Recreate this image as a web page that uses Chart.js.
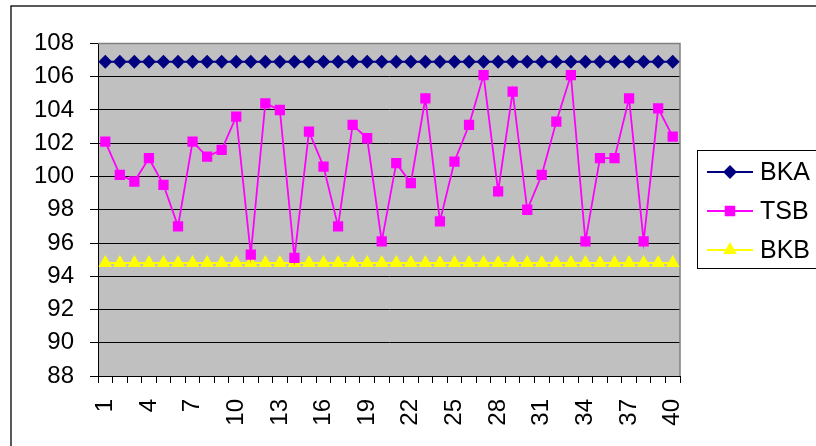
<!DOCTYPE html>
<html>
<head>
<meta charset="utf-8">
<script src="https://cdn.jsdelivr.net/npm/chart.js@4/dist/chart.umd.min.js"></script>
<style>
  body { margin: 0; background: #fff; }
  canvas { display: block; }
</style>
</head>
<body>
<canvas id="chart" width="816" height="446"></canvas>
<script>
const categories = ["1", "2", "3", "4", "5", "6", "7", "8", "9", "10",
  "11", "12", "13", "14", "15", "16", "17", "18", "19", "20",
  "21", "22", "23", "24", "25", "26", "27", "28", "29", "30",
  "31", "32", "33", "34", "35", "36", "37", "38", "39", "40"];

const bkaValues = [106.9, 106.9, 106.9, 106.9, 106.9, 106.9, 106.9, 106.9, 106.9, 106.9,
  106.9, 106.9, 106.9, 106.9, 106.9, 106.9, 106.9, 106.9, 106.9, 106.9,
  106.9, 106.9, 106.9, 106.9, 106.9, 106.9, 106.9, 106.9, 106.9, 106.9,
  106.9, 106.9, 106.9, 106.9, 106.9, 106.9, 106.9, 106.9, 106.9, 106.9];

const tsbValues = [102.1, 100.1, 99.7, 101.1, 99.5, 97.0, 102.1, 101.2, 101.6, 103.6,
  95.3, 104.4, 104.0, 95.1, 102.7, 100.6, 97.0, 103.1, 102.3, 96.1,
  100.8, 99.6, 104.7, 97.3, 100.9, 103.1, 106.1, 99.1, 105.1, 98.0,
  100.1, 103.3, 106.1, 96.1, 101.1, 101.1, 104.7, 96.1, 104.1, 102.4];

const bkbValues = [94.8, 94.8, 94.8, 94.8, 94.8, 94.8, 94.8, 94.8, 94.8, 94.8,
  94.8, 94.8, 94.8, 94.8, 94.8, 94.8, 94.8, 94.8, 94.8, 94.8,
  94.8, 94.8, 94.8, 94.8, 94.8, 94.8, 94.8, 94.8, 94.8, 94.8,
  94.8, 94.8, 94.8, 94.8, 94.8, 94.8, 94.8, 94.8, 94.8, 94.8];

const seriesNames = ["BKA", "TSB", "BKB"];

const fontFamily = "'Liberation Sans', Arial, sans-serif";

// grey plot area, outer frame and plot border
const backgroundPlugin = {
  id: "plotBackground",
  beforeDraw(chart) {
    const ctx = chart.ctx;
    const area = chart.chartArea;
    ctx.save();
    ctx.strokeStyle = "#000";
    ctx.lineWidth = 1.3;
    ctx.strokeRect(11, 6, 900, 900);
    ctx.fillStyle = "#C0C0C0";
    ctx.fillRect(area.left, area.top, area.right - area.left, area.bottom - area.top);
    ctx.restore();
  },
  beforeDatasetsDraw(chart) {
    const ctx = chart.ctx;
    const area = chart.chartArea;
    ctx.save();
    ctx.strokeStyle = "#808080";
    ctx.lineWidth = 1.5;
    ctx.beginPath();
    ctx.moveTo(area.left, area.top);
    ctx.lineTo(area.right, area.top);
    ctx.lineTo(area.right, area.bottom);
    ctx.stroke();
    ctx.restore();
  }
};

// Excel-like legend box on the right
const legendPlugin = {
  id: "legendBox",
  afterDraw(chart) {
    const ctx = chart.ctx;
    ctx.save();
    ctx.fillStyle = "#fff";
    ctx.fillRect(697, 150, 140, 119);
    ctx.strokeStyle = "#000";
    ctx.lineWidth = 1;
    ctx.strokeRect(697.5, 150.5, 140, 118);
    chart.data.datasets.forEach((ds, i) => {
      const y = 172 + i * 39;
      ctx.strokeStyle = ds.borderColor;
      ctx.lineWidth = 2;
      ctx.beginPath();
      ctx.moveTo(707, y);
      ctx.lineTo(753, y);
      ctx.stroke();
      ctx.fillStyle = ds.pointBackgroundColor;
      ctx.strokeStyle = ds.pointBorderColor;
      Chart.helpers.drawPoint(ctx, {
        pointStyle: ds.pointStyle,
        rotation: 0,
        radius: ds.pointRadius,
        borderWidth: 1
      }, 730, y);
      ctx.fillStyle = "#000";
      ctx.font = "25px " + fontFamily;
      ctx.textAlign = "left";
      ctx.textBaseline = "middle";
      ctx.fillText(ds.label, 760, y + 1);
    });
    ctx.restore();
  }
};

new Chart(document.getElementById("chart"), {
  type: "line",
  data: {
    labels: categories,
    datasets: [
      {
        label: seriesNames[0],
        data: bkaValues,
        borderColor: "#000080",
        backgroundColor: "#000080",
        pointBackgroundColor: "#000080",
        pointBorderColor: "#000080",
        pointStyle: "rectRot",
        pointRadius: 5.5,
        borderWidth: 2
      },
      {
        label: seriesNames[1],
        data: tsbValues,
        borderColor: "#FF00FF",
        backgroundColor: "#FF00FF",
        pointBackgroundColor: "#FF00FF",
        pointBorderColor: "#FF00FF",
        pointStyle: "rect",
        pointRadius: 6,
        borderWidth: 1.8
      },
      {
        label: seriesNames[2],
        data: bkbValues,
        borderColor: "#FFFF00",
        backgroundColor: "#FFFF00",
        pointBackgroundColor: "#FFFF00",
        pointBorderColor: "#FFFF00",
        pointStyle: "triangle",
        pointRadius: 6,
        borderWidth: 2
      }
    ]
  },
  options: {
    responsive: false,
    animation: false,
    layout: {
      padding: { top: 43.5, right: 136, left: 0, bottom: 0 }
    },
    plugins: {
      legend: { display: false },
      tooltip: { enabled: false }
    },
    elements: {
      line: { tension: 0 }
    },
    scales: {
      x: {
        offset: true,
        grid: {
          offset: true,
          drawOnChartArea: false,
          color: "#000",
          tickColor: "#000",
          tickLength: 7
        },
        border: { color: "#000", width: 1 },
        ticks: {
          autoSkip: false,
          minRotation: 90,
          maxRotation: 90,
          padding: 16,
          color: "#000",
          font: { family: fontFamily, size: 24 },
          callback: function (value, index) {
            return index % 3 === 0 ? this.getLabelForValue(value) : "";
          }
        },
        afterFit: (scale) => { scale.height = 70; }
      },
      y: {
        min: 88,
        max: 108,
        grid: {
          color: "#000",
          tickColor: "#000",
          tickLength: 8
        },
        border: { color: "#000", width: 1 },
        ticks: {
          stepSize: 2,
          padding: 16,
          color: "#000",
          font: { family: fontFamily, size: 24 }
        },
        afterFit: (scale) => { scale.width = 98; }
      }
    }
  },
  plugins: [backgroundPlugin, legendPlugin]
});
</script>
</body>
</html>
